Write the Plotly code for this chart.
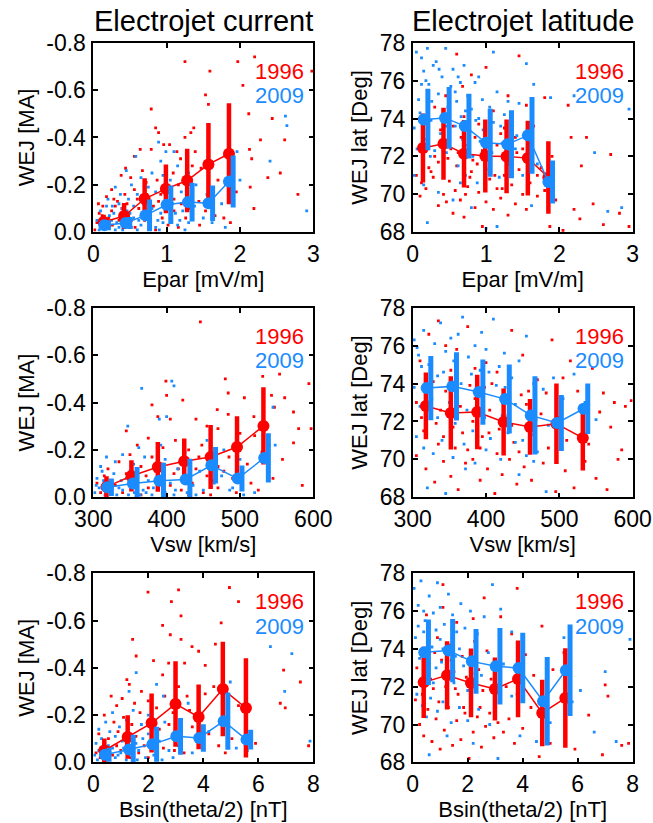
import plotly.graph_objects as go
from plotly.subplots import make_subplots

RED = "#ff0000"
BLUE = "#1a8cff"
FONT = "Liberation Sans, Arial, Helvetica, sans-serif"

# ---- bin means (x) ----
epar_x_1996 = [0.14, 0.42, 0.70, 0.99, 1.28, 1.57, 1.85]
epar_x_2009 = [0.15, 0.44, 0.71, 1.00, 1.29, 1.57, 1.85]
vsw_x_1996 = [318, 352, 388, 424, 460, 496, 532]
vsw_x_2009 = [319, 354, 390, 426, 461, 497, 533]
bsin_x_1996 = [0.40, 1.25, 2.12, 2.99, 3.83, 4.71, 5.55]
bsin_x_2009 = [0.42, 1.30, 2.15, 3.02, 3.85, 4.74, 5.57]

# ---- WEJ current, bin means and std ----
epar_wej_1996 = [-0.043, -0.068, -0.141, -0.183, -0.218, -0.286, -0.331]
epar_wej_1996_sd = [0.031, 0.055, 0.087, 0.103, 0.134, 0.175, 0.213]
epar_wej_2009 = [-0.029, -0.039, -0.071, -0.116, -0.127, -0.122, -0.214]
epar_wej_2009_sd = [0.021, 0.025, 0.067, 0.081, 0.082, 0.075, 0.110]

vsw_wej_1996 = [-0.044, -0.090, -0.128, -0.152, -0.170, -0.212, -0.301]
vsw_wej_1996_sd = [0.045, 0.066, 0.105, 0.096, 0.135, 0.130, 0.163]
vsw_wej_2009 = [-0.042, -0.058, -0.070, -0.075, -0.135, -0.079, -0.166]
vsw_wej_2009_sd = [0.037, 0.070, 0.076, 0.088, 0.077, 0.055, 0.104]

bsin_wej_1996 = [-0.050, -0.107, -0.166, -0.247, -0.192, -0.310, -0.230]
bsin_wej_1996_sd = [0.051, 0.092, 0.125, 0.181, 0.137, 0.200, 0.210]
bsin_wej_2009 = [-0.032, -0.054, -0.076, -0.110, -0.103, -0.174, -0.096]
bsin_wej_2009_sd = [0.030, 0.063, 0.074, 0.078, 0.058, 0.121, 0.042]

# ---- WEJ latitude, bin means and std ----
epar_lat_1996 = [72.44, 72.67, 72.14, 72.02, 72.00, 71.91, 70.89]
epar_lat_1996_sd = [1.82, 1.90, 1.78, 1.93, 1.95, 1.97, 1.91]
epar_lat_2009 = [73.95, 74.03, 73.60, 72.72, 72.64, 73.11, 70.65]
epar_lat_2009_sd = [1.62, 1.63, 1.71, 1.80, 1.79, 2.02, 1.14]

vsw_lat_1996 = [72.82, 72.45, 72.50, 71.97, 71.71, 71.88, 71.13]
vsw_lat_1996_sd = [1.76, 1.93, 1.96, 1.77, 1.47, 2.12, 1.72]
vsw_lat_2009 = [73.76, 73.85, 73.55, 73.18, 72.32, 71.92, 72.67]
vsw_lat_2009_sd = [1.69, 1.80, 1.72, 1.82, 2.06, 1.48, 1.33]

bsin_lat_1996 = [72.23, 72.60, 72.20, 71.88, 72.41, 70.61, 71.40]
bsin_lat_1996_sd = [1.88, 1.80, 1.82, 1.67, 2.03, 1.76, 2.63]
bsin_lat_2009 = [73.82, 73.91, 73.34, 73.08, 72.99, 71.23, 72.87]
bsin_lat_2009_sd = [1.73, 1.67, 1.71, 2.02, 1.86, 2.34, 2.42]

# ---- individual events (x, value) ----
epar_wej_1996_pts = [
    (1.25, -0.72), (1.97, -0.72), (2.20, -0.74), (1.59, -0.68), (2.98, -0.68), (2.04, -0.62),
    (1.53, -0.58), (1.57, -0.54), (2.44, -0.48), (2.12, -0.50), (0.79, -0.52), (0.85, -0.44),
    (2.28, -0.39), (0.89, -0.42), (1.33, -0.42), (1.37, -0.44), (1.25, -0.40), (2.13, -0.35),
    (2.16, -0.31), (0.64, -0.35), (0.79, -0.35), (0.96, -0.37), (1.04, -0.37), (1.14, -0.34),
    (1.19, -0.31), (1.39, -0.34), (1.47, -0.27), (2.38, -0.23), (2.14, -0.19), (2.79, -0.16),
    (2.19, -0.10), (0.44, -0.27), (0.56, -0.32), (0.38, -0.24), (0.51, -0.23), (0.67, -0.26),
    (0.72, -0.21), (0.87, -0.22), (1.09, -0.25), (1.16, -0.20), (1.35, -0.28), (0.25, -0.18),
    (0.13, -0.11), (0.07, -0.12), (0.18, -0.15), (0.33, -0.13), (0.43, -0.16), (0.56, -0.18),
    (0.73, -0.16), (0.89, -0.13), (1.10, -0.14), (1.44, -0.13), (1.53, -0.09), (1.66, -0.07),
    (1.78, -0.06), (1.87, -0.04), (1.45, -0.03), (1.26, -0.06), (1.10, -0.09), (0.94, -0.06),
    (0.78, -0.08), (0.62, -0.10), (0.48, -0.07), (0.35, -0.05), (0.25, -0.09), (0.12, -0.07),
    (0.05, -0.04), (0.26, -0.03), (0.57, -0.02), (0.85, -0.01), (1.16, -0.02), (0.02, -0.01),
    (0.21, -0.06), (0.39, -0.10), (2.61, -0.39), (2.55, -0.25), (1.95, -0.17), (1.70, -0.22),
    (0.30, -0.11), (0.46, -0.12), (0.60, -0.14), (0.70, -0.05), (0.82, -0.11), (1.00, -0.11),
    (0.15, -0.04), (0.40, -0.03), (0.66, -0.07), (0.92, -0.16), (1.20, -0.12), (1.02, -0.03),
    (0.08, -0.08), (0.28, -0.14), (0.52, -0.05), (0.75, -0.13), (0.98, -0.19), (1.32, -0.10),
]
epar_wej_2009_pts = [
    (2.62, -0.49), (2.64, -0.45), (2.41, -0.30), (2.91, -0.09), (0.89, -0.38), (0.92, -0.30),
    (0.99, -0.34), (1.10, -0.34), (0.58, -0.32), (0.45, -0.26), (0.52, -0.20), (0.65, -0.23),
    (0.80, -0.25), (0.95, -0.24), (1.05, -0.22), (1.15, -0.28), (1.30, -0.25), (0.30, -0.19),
    (0.20, -0.14), (0.37, -0.16), (0.48, -0.14), (0.60, -0.16), (0.75, -0.19), (0.85, -0.17),
    (0.98, -0.16), (1.20, -0.17), (1.40, -0.20), (1.55, -0.16), (1.75, -0.12), (1.96, -0.34),
    (2.00, -0.22), (0.10, -0.09), (0.18, -0.11), (0.28, -0.08), (0.40, -0.10), (0.55, -0.11),
    (0.68, -0.12), (0.80, -0.10), (0.92, -0.08), (1.08, -0.12), (1.22, -0.09), (1.38, -0.11),
    (1.50, -0.06), (1.62, -0.04), (1.80, -0.02), (0.05, -0.05), (0.15, -0.03), (0.25, -0.05),
    (0.35, -0.02), (0.45, -0.04), (0.55, -0.06), (0.65, -0.03), (0.75, -0.05), (0.85, -0.02),
    (0.95, -0.04), (1.05, -0.06), (1.15, -0.03), (1.30, -0.04), (0.08, -0.01), (0.30, -0.01),
    (0.60, -0.01), (0.90, -0.01), (1.25, -0.01), (0.50, -0.08), (0.70, -0.07), (0.35, -0.12),
    (0.62, -0.05), (0.12, -0.02), (0.42, -0.06), (0.78, -0.03), (0.22, -0.07), (0.32, -0.04),
    (0.52, -0.02), (0.72, -0.09), (0.88, -0.05), (1.12, -0.08), (0.18, -0.02), (0.40, -0.01),
    (0.14, -0.06), (0.26, -0.11), (0.46, -0.09), (0.66, -0.14), (1.00, -0.10), (1.18, -0.05),
]
epar_lat_1996_pts = [
    (0.05, 71.0), (0.10, 69.9), (0.18, 70.3), (0.25, 71.2), (0.30, 72.0), (0.35, 69.4), (0.42, 70.0),
    (0.50, 70.7), (0.55, 69.0), (0.60, 71.5), (0.65, 69.7), (0.70, 68.8), (0.75, 70.4), (0.80, 71.2),
    (0.85, 69.3), (0.90, 70.1), (0.95, 68.3), (1.00, 69.6), (1.05, 70.8), (1.10, 69.2), (1.15, 70.3),
    (1.20, 69.8), (1.25, 71.0), (1.30, 68.9), (1.35, 70.5), (1.40, 69.5), (1.45, 71.3), (1.50, 70.0),
    (1.55, 69.2), (1.60, 70.6), (1.70, 69.9), (1.75, 71.4), (1.80, 70.2), (1.87, 68.3), (1.95, 69.7),
    (2.05, 68.1), (2.20, 69.2), (2.28, 68.7), (2.46, 69.5), (2.60, 68.4), (2.82, 69.0), (2.95, 68.3),
    (2.30, 71.5), (2.70, 72.1), (2.16, 73.0), (2.37, 73.0), (2.12, 74.7), (1.45, 77.3), (1.00, 76.7),
    (0.60, 77.4), (0.80, 76.3), (0.30, 74.6), (0.45, 75.2), (0.70, 74.1), (0.90, 73.7), (1.10, 74.4),
    (1.25, 73.5), (1.40, 73.0), (1.55, 74.7), (1.65, 73.6), (1.80, 75.1), (0.15, 73.2), (0.40, 72.8),
    (0.55, 73.6), (0.75, 72.6), (0.95, 72.3), (1.15, 72.6), (1.35, 71.8), (1.50, 72.4), (1.70, 71.0),
    (1.90, 72.0), (0.20, 72.6), (0.62, 72.2), (0.85, 73.0), (1.05, 71.5), (1.20, 73.2), (0.10, 74.0),
    (0.35, 71.7), (0.50, 74.3), (0.68, 75.7), (1.30, 75.2), (0.22, 71.4), (0.48, 71.9), (0.78, 70.9),
    (1.02, 72.9), (1.28, 72.1), (0.58, 70.2), (0.88, 71.6), (1.12, 71.0), (0.38, 73.4), (0.66, 73.0),
    (0.12, 70.6), (0.28, 70.9), (0.46, 69.6), (0.72, 70.0), (0.98, 70.6), (1.22, 70.3), (1.42, 72.2),
    (1.62, 71.7), (0.52, 72.4), (0.82, 71.8),
]
epar_lat_2009_pts = [
    (0.05, 77.5), (0.12, 77.2), (0.08, 75.0), (0.15, 76.5), (0.20, 77.7), (0.22, 75.8), (0.28, 76.8),
    (0.32, 77.0), (0.35, 75.3), (0.40, 76.2), (0.45, 77.7), (0.48, 74.6), (0.52, 75.7), (0.55, 76.6),
    (0.60, 74.9), (0.65, 75.9), (0.70, 76.8), (0.75, 75.2), (0.80, 74.5), (0.85, 75.9), (0.90, 74.0),
    (0.95, 75.0), (1.05, 74.6), (1.10, 73.8), (1.15, 75.4), (1.25, 74.2), (1.35, 73.5), (1.45, 74.8),
    (1.55, 76.9), (1.65, 75.8), (1.10, 77.5), (0.02, 73.5), (0.10, 74.3), (0.18, 72.9), (0.25, 73.9),
    (0.30, 72.3), (0.38, 73.2), (0.42, 71.8), (0.50, 72.7), (0.58, 73.6), (0.62, 71.5), (0.68, 72.9),
    (0.72, 71.0), (0.78, 73.3), (0.82, 72.0), (0.88, 70.6), (0.92, 72.8), (1.00, 71.3), (1.08, 72.2),
    (1.18, 70.9), (1.22, 72.7), (1.30, 71.6), (1.40, 72.4), (1.50, 71.0), (1.58, 72.9), (1.70, 71.6),
    (0.15, 70.5), (0.35, 70.1), (0.55, 69.7), (0.80, 69.3), (0.20, 68.5), (1.00, 68.2), (1.15, 68.3),
    (1.62, 69.4), (2.66, 69.1), (2.85, 69.3), (2.48, 72.2), (1.88, 75.1), (2.95, 74.5), (2.20, 75.2),
    (0.02, 71.0), (0.65, 70.6), (0.45, 73.6), (0.90, 76.2), (1.30, 74.9), (0.12, 75.8), (0.26, 74.9),
    (0.42, 74.4), (0.58, 75.4), (0.72, 74.4), (0.86, 73.9), (0.18, 76.0), (0.36, 76.6), (0.62, 76.2),
    (0.06, 72.4), (0.24, 72.0), (0.46, 72.2), (0.66, 74.1), (0.96, 73.4), (1.20, 73.6), (1.42, 73.1),
]
vsw_wej_1996_pts = [
    (446, -0.74), (480, -0.50), (484, -0.44), (531, -0.51), (554, -0.52), (594, -0.48), (561, -0.42),
    (506, -0.42), (543, -0.43), (469, -0.37), (484, -0.35), (519, -0.34), (547, -0.38), (573, -0.36),
    (580, -0.29), (597, -0.29), (573, -0.23), (558, -0.16), (585, -0.05), (399, -0.49), (400, -0.43),
    (345, -0.28), (380, -0.39), (388, -0.34), (405, -0.33), (422, -0.41), (440, -0.33), (455, -0.30),
    (470, -0.29), (500, -0.27), (520, -0.26), (540, -0.22), (360, -0.22), (375, -0.25), (395, -0.21),
    (412, -0.24), (430, -0.20), (448, -0.22), (465, -0.18), (485, -0.17), (510, -0.14), (530, -0.19),
    (320, -0.12), (335, -0.15), (350, -0.18), (365, -0.13), (380, -0.17), (395, -0.14), (410, -0.10),
    (425, -0.16), (440, -0.12), (455, -0.09), (470, -0.13), (490, -0.08), (515, -0.06), (305, -0.06),
    (315, -0.09), (330, -0.05), (345, -0.10), (360, -0.07), (375, -0.04), (390, -0.08), (405, -0.05),
    (420, -0.03), (435, -0.06), (450, -0.02), (470, -0.04), (495, -0.02), (525, -0.03), (310, -0.02),
    (340, -0.02), (365, -0.01), (400, -0.01), (430, -0.01), (460, -0.01), (545, -0.08), (385, -0.11),
    (372, -0.09), (392, -0.06), (416, -0.12), (444, -0.17), (462, -0.07), (478, -0.11),
]
vsw_wej_2009_pts = [
    (366, -0.46), (407, -0.49), (410, -0.47), (347, -0.30), (390, -0.33), (400, -0.34), (545, -0.38),
    (548, -0.22), (500, -0.16), (478, -0.20), (330, -0.15), (340, -0.18), (355, -0.14), (370, -0.17),
    (385, -0.13), (398, -0.16), (415, -0.12), (430, -0.15), (445, -0.11), (460, -0.14), (475, -0.09),
    (305, -0.08), (312, -0.11), (320, -0.06), (328, -0.10), (335, -0.04), (345, -0.08), (352, -0.05),
    (360, -0.10), (368, -0.03), (375, -0.07), (382, -0.04), (390, -0.09), (398, -0.02), (405, -0.06),
    (412, -0.03), (420, -0.08), (428, -0.02), (436, -0.05), (450, -0.03), (465, -0.06), (490, -0.04),
    (520, -0.02), (302, -0.02), (308, -0.04), (316, -0.01), (324, -0.03), (332, -0.01), (340, -0.03),
    (348, -0.01), (356, -0.02), (364, -0.01), (372, -0.02), (380, -0.01), (395, -0.01), (410, -0.01),
    (440, -0.01), (310, -0.13), (318, -0.17), (362, -0.21), (392, -0.22), (425, -0.19), (455, -0.24),
    (486, -0.03), (505, -0.01), (304, -0.05), (314, -0.07), (326, -0.05), (338, -0.07), (350, -0.11),
]
vsw_lat_1996_pts = [
    (310, 75.2), (322, 76.6), (335, 77.3), (345, 76.0), (360, 75.8), (375, 77.0), (385, 74.8),
    (400, 75.1), (415, 74.6), (435, 76.8), (450, 75.5), (470, 74.2), (490, 76.3), (515, 75.2),
    (545, 74.8), (560, 73.5), (575, 73.0), (590, 72.8), (598, 73.1), (305, 73.0), (315, 71.5),
    (325, 72.3), (335, 70.8), (345, 73.6), (355, 71.7), (365, 72.8), (375, 70.5), (385, 73.2),
    (395, 71.2), (405, 72.6), (415, 70.3), (425, 73.0), (435, 71.8), (445, 70.4), (455, 72.9),
    (465, 71.3), (475, 72.4), (485, 70.6), (500, 72.2), (510, 71.0), (525, 73.6), (540, 70.8),
    (555, 72.5), (570, 71.7), (585, 70.5), (305, 70.2), (318, 69.5), (330, 68.8), (342, 69.9),
    (352, 69.1), (362, 68.4), (372, 69.8), (382, 70.0), (392, 68.9), (402, 69.5), (412, 68.2),
    (422, 69.2), (432, 70.0), (442, 68.7), (452, 69.6), (462, 68.9), (478, 69.8), (495, 68.3),
    (508, 69.4), (520, 68.5), (535, 69.9), (550, 69.0), (565, 68.4), (580, 70.0), (342, 71.2),
    (398, 73.8), (458, 73.6), (482, 73.5), (505, 74.3), (328, 74.1), (352, 74.7), (378, 73.9),
    (408, 74.0), (338, 72.6), (368, 71.4), (418, 71.6), (448, 73.4), (392, 70.6), (430, 72.3),
    (312, 72.2), (332, 71.9), (358, 70.6), (382, 72.0), (404, 71.4), (438, 70.9), (468, 72.1),
]
vsw_lat_2009_pts = [
    (302, 76.3), (308, 75.5), (315, 76.8), (322, 75.0), (330, 76.1), (338, 77.2), (345, 75.7),
    (352, 76.4), (360, 74.9), (368, 77.5), (376, 75.4), (385, 76.0), (392, 74.7), (400, 75.8),
    (410, 77.4), (418, 74.9), (425, 75.6), (435, 74.3), (445, 75.2), (455, 76.5), (465, 74.0),
    (478, 73.7), (492, 74.3), (505, 73.2), (520, 74.5), (535, 73.0), (302, 73.8), (310, 72.8),
    (318, 74.2), (326, 73.2), (334, 72.2), (342, 74.6), (350, 73.0), (358, 71.9), (366, 74.0),
    (374, 72.6), (382, 71.5), (390, 73.4), (398, 72.2), (406, 71.1), (414, 73.9), (422, 72.3),
    (430, 71.4), (440, 72.9), (450, 71.0), (460, 72.7), (470, 70.4), (485, 71.8), (305, 71.2),
    (315, 70.6), (328, 70.3), (340, 71.0), (355, 70.1), (370, 70.8), (385, 69.8), (400, 70.5),
    (420, 70.0), (445, 69.2), (465, 69.9), (482, 68.3), (320, 68.5), (345, 68.2), (372, 69.5),
    (440, 70.9), (455, 70.2), (550, 72.1), (312, 74.9), (334, 74.4), (356, 75.2), (380, 74.5),
    (404, 74.6), (426, 73.8), (306, 75.9), (362, 76.6), (394, 76.7),
]
bsin_wej_1996_pts = [
    (1.99, -0.72), (3.10, -0.73), (2.84, -0.68), (3.19, -0.62), (2.52, -0.58), (2.80, -0.54),
    (4.95, -0.74), (5.28, -0.68), (4.65, -0.59), (1.43, -0.52), (3.19, -0.52), (3.59, -0.49),
    (3.83, -0.47), (4.44, -0.50), (1.56, -0.45), (2.19, -0.43), (2.74, -0.42), (3.32, -0.42),
    (4.07, -0.41), (6.92, -0.39), (7.53, -0.34), (6.80, -0.25), (6.98, -0.23), (7.83, -0.07),
    (1.22, -0.35), (1.31, -0.33), (2.52, -0.37), (3.10, -0.32), (3.41, -0.28), (4.07, -0.29),
    (4.38, -0.32), (5.28, -0.24), (4.56, -0.07), (5.04, -0.10), (0.65, -0.28), (0.85, -0.24),
    (1.05, -0.27), (1.50, -0.25), (1.75, -0.30), (2.00, -0.26), (2.30, -0.23), (2.60, -0.28),
    (2.90, -0.21), (3.50, -0.22), (0.40, -0.20), (0.75, -0.17), (1.10, -0.19), (1.40, -0.16),
    (1.70, -0.21), (2.05, -0.18), (2.40, -0.14), (2.75, -0.16), (3.05, -0.12), (3.60, -0.15),
    (4.20, -0.12), (0.20, -0.12), (0.55, -0.10), (0.90, -0.13), (1.20, -0.08), (1.55, -0.11),
    (1.85, -0.07), (2.20, -0.09), (2.55, -0.06), (2.95, -0.05), (3.30, -0.04), (0.10, -0.04),
    (0.35, -0.06), (0.70, -0.03), (1.00, -0.05), (1.35, -0.02), (1.65, -0.04), (2.00, -0.02),
    (0.50, -0.01), (0.25, -0.02), (0.85, -0.07), (5.90, -0.08), (4.80, -0.04),
]
bsin_wej_2009_pts = [
    (6.44, -0.49), (7.22, -0.46), (6.96, -0.30), (7.88, -0.09), (1.56, -0.38), (1.30, -0.30),
    (2.30, -0.33), (2.55, -0.28), (3.45, -0.25), (4.98, -0.34), (4.20, -0.13), (5.60, -0.05),
    (5.20, -0.06), (0.20, -0.14), (0.45, -0.17), (0.70, -0.21), (0.95, -0.15), (1.20, -0.18),
    (1.45, -0.22), (1.75, -0.16), (2.00, -0.20), (2.25, -0.14), (2.60, -0.17), (2.90, -0.12),
    (3.20, -0.15), (0.10, -0.08), (0.30, -0.10), (0.55, -0.07), (0.80, -0.11), (1.05, -0.09),
    (1.30, -0.12), (1.55, -0.08), (1.80, -0.10), (2.10, -0.07), (2.40, -0.09), (2.75, -0.05),
    (3.10, -0.07), (3.60, -0.04), (0.05, -0.03), (0.20, -0.05), (0.40, -0.02), (0.60, -0.04),
    (0.80, -0.02), (1.00, -0.04), (1.20, -0.01), (1.40, -0.03), (1.65, -0.05), (1.90, -0.02),
    (2.20, -0.03), (2.50, -0.01), (2.90, -0.02), (0.15, -0.01), (0.50, -0.01), (0.70, -0.06),
    (1.10, -0.06), (1.60, -0.01), (0.35, -0.04), (0.90, -0.03), (1.35, -0.07), (2.00, -0.12),
    (0.60, -0.13),
]
bsin_lat_1996_pts = [
    (0.10, 71.3), (0.25, 70.0), (0.40, 69.4), (0.55, 70.8), (0.70, 69.1), (0.85, 70.3), (1.00, 68.7),
    (1.15, 69.7), (1.30, 70.9), (1.45, 68.9), (1.60, 70.2), (1.75, 69.2), (1.90, 70.6), (2.05, 68.2),
    (2.20, 69.6), (2.35, 70.4), (2.50, 68.8), (2.65, 69.9), (2.80, 70.6), (2.95, 69.3), (3.10, 70.1),
    (3.30, 69.6), (3.50, 70.3), (3.70, 69.0), (4.00, 69.8), (4.60, 68.3), (5.00, 69.0), (5.90, 68.7),
    (6.40, 70.5), (7.00, 72.1), (7.10, 71.5), (6.90, 68.4), (7.60, 68.9), (7.85, 69.0), (4.30, 70.9),
    (0.15, 73.0), (0.30, 72.2), (0.45, 74.0), (0.60, 73.2), (0.75, 71.9), (0.90, 74.6), (1.05, 73.4),
    (1.20, 72.0), (1.35, 74.2), (1.50, 72.8), (1.65, 71.6), (1.80, 73.6), (1.95, 72.5), (2.10, 71.3),
    (2.25, 74.4), (2.40, 72.9), (2.55, 71.8), (2.70, 73.9), (2.85, 72.4), (3.00, 71.4), (3.20, 73.3),
    (3.40, 72.0), (3.60, 74.8), (3.80, 71.6), (4.10, 73.7), (4.40, 72.6), (4.70, 75.2), (5.10, 72.9),
    (0.50, 75.8), (1.10, 76.2), (1.60, 75.4), (2.60, 76.7), (3.80, 77.2), (1.10, 77.4), (2.20, 75.6),
    (3.20, 75.7), (5.50, 73.8), (0.35, 71.6), (0.65, 72.4), (0.95, 71.2), (1.25, 72.9), (1.55, 71.9),
    (1.85, 70.9), (2.15, 72.7), (2.45, 70.9), (0.80, 73.8), (1.40, 73.4),
]
bsin_lat_2009_pts = [
    (0.05, 77.2), (0.20, 76.3), (0.30, 77.6), (0.45, 75.5), (0.60, 76.8), (0.75, 75.9), (0.90, 77.5),
    (1.00, 76.2), (1.15, 75.3), (1.30, 76.9), (1.45, 75.8), (1.60, 74.9), (1.75, 76.4), (1.90, 75.1),
    (2.10, 76.0), (2.35, 74.8), (2.60, 75.7), (2.90, 77.4), (3.20, 76.1), (3.60, 74.9), (0.10, 74.6),
    (0.25, 73.5), (0.40, 74.9), (0.55, 72.9), (0.70, 74.1), (0.85, 73.0), (1.00, 74.5), (1.20, 72.5),
    (1.35, 73.7), (1.50, 72.2), (1.70, 74.0), (1.85, 73.1), (2.00, 71.8), (2.25, 73.4), (2.50, 72.6),
    (2.75, 73.8), (3.00, 72.0), (3.30, 73.2), (3.60, 71.5), (4.00, 72.8), (0.15, 71.6), (0.35, 71.0),
    (0.50, 70.4), (0.65, 71.4), (0.90, 70.7), (1.10, 71.2), (1.40, 70.1), (1.70, 70.9), (2.00, 70.2),
    (2.40, 70.8), (2.80, 70.0), (0.60, 68.4), (1.25, 69.4), (2.20, 69.0), (3.10, 68.2), (4.50, 69.1),
    (5.00, 70.1), (5.50, 74.6), (5.80, 71.2), (6.10, 71.8), (7.00, 72.8), (7.40, 69.1), (6.60, 69.6),
    (7.90, 74.5), (3.90, 69.4), (0.20, 75.2), (0.55, 74.2), (0.85, 75.0), (1.10, 74.0), (1.55, 73.6),
    (0.30, 72.4), (0.75, 72.2), (1.25, 71.8), (0.40, 76.0), (1.05, 73.3),
]

# ---- axes ----
epar_ticks = [0, 1, 2, 3]
vsw_ticks = [300, 400, 500, 600]
bsin_ticks = [0, 2, 4, 6, 8]
wej_ticks = [0.0, -0.2, -0.4, -0.6, -0.8]
wej_ticktext = ["0.0", "-0.2", "-0.4", "-0.6", "-0.8"]
lat_ticks = [68, 70, 72, 74, 76, 78]

panels = [
    # row, col, x bins 1996, x bins 2009, y 1996, sd, y 2009, sd, pts 1996, pts 2009
    (1, 1, epar_x_1996, epar_x_2009, epar_wej_1996, epar_wej_1996_sd, epar_wej_2009, epar_wej_2009_sd,
     epar_wej_1996_pts, epar_wej_2009_pts),
    (1, 2, epar_x_1996, epar_x_2009, epar_lat_1996, epar_lat_1996_sd, epar_lat_2009, epar_lat_2009_sd,
     epar_lat_1996_pts, epar_lat_2009_pts),
    (2, 1, vsw_x_1996, vsw_x_2009, vsw_wej_1996, vsw_wej_1996_sd, vsw_wej_2009, vsw_wej_2009_sd,
     vsw_wej_1996_pts, vsw_wej_2009_pts),
    (2, 2, vsw_x_1996, vsw_x_2009, vsw_lat_1996, vsw_lat_1996_sd, vsw_lat_2009, vsw_lat_2009_sd,
     vsw_lat_1996_pts, vsw_lat_2009_pts),
    (3, 1, bsin_x_1996, bsin_x_2009, bsin_wej_1996, bsin_wej_1996_sd, bsin_wej_2009, bsin_wej_2009_sd,
     bsin_wej_1996_pts, bsin_wej_2009_pts),
    (3, 2, bsin_x_1996, bsin_x_2009, bsin_lat_1996, bsin_lat_1996_sd, bsin_lat_2009, bsin_lat_2009_sd,
     bsin_lat_1996_pts, bsin_lat_2009_pts),
]
x_ranges = {1: [0, 3], 2: [300, 600], 3: [0, 8]}
x_ticks = {1: epar_ticks, 2: vsw_ticks, 3: bsin_ticks}
x_titles = {1: "Epar [mV/m]", 2: "Vsw [km/s]", 3: "Bsin(theta/2) [nT]"}

W, H = 653, 823
col_px = {1: (93.3, 313.3), 2: (412.7, 632.7)}
row_px = {1: (42.7, 232.2), 2: (307.7, 497.3), 3: (573.3, 762.3)}

fig = make_subplots(rows=3, cols=2)

for row, col, x96, x09, y96, sd96, y09, sd09, p96, p09 in panels:
    span = x_ranges[row][1] - x_ranges[row][0]
    shift = 0.019 * span  # 2009 error bars drawn slightly to the right
    for pts, colr in ((p96, RED), (p09, BLUE)):
        fig.add_trace(go.Scatter(
            x=[p[0] for p in pts], y=[p[1] for p in pts], mode="markers",
            marker=dict(color=colr, size=2.8, symbol="square", line=dict(width=0)),
            showlegend=False, hoverinfo="skip"), row=row, col=col)
    # 1996 mean with error bars
    fig.add_trace(go.Scatter(
        x=x96, y=y96, mode="lines+markers",
        line=dict(color=RED, width=1.5),
        marker=dict(color=RED, size=12),
        error_y=dict(type="data", array=sd96, color=RED, thickness=4.5, width=0),
        showlegend=False), row=row, col=col)
    # 2009 error bars (offset) and mean
    fig.add_trace(go.Scatter(
        x=[v + shift for v in x09], y=y09, mode="markers",
        marker=dict(color=BLUE, size=1, opacity=0),
        error_y=dict(type="data", array=sd09, color=BLUE, thickness=5, width=0),
        showlegend=False, hoverinfo="skip"), row=row, col=col)
    fig.add_trace(go.Scatter(
        x=x09, y=y09, mode="lines+markers",
        line=dict(color=BLUE, width=1.5),
        marker=dict(color=BLUE, size=12),
        showlegend=False), row=row, col=col)

axis_common = dict(
    showline=True, linecolor="black", linewidth=1.6, mirror="ticks",
    ticks="inside", ticklen=5, tickwidth=1.6, tickcolor="black",
    showgrid=False, zeroline=False, automargin=False,
    tickfont=dict(family=FONT, size=23, color="black"),
    title_font=dict(family=FONT, size=22, color="black"),
)

for row in (1, 2, 3):
    for col in (1, 2):
        x0, x1 = [v / W for v in col_px[col]]
        y0, y1 = [1 - v / H for v in row_px[row]]
        fig.update_xaxes(
            domain=[x0, x1], range=x_ranges[row], tickvals=x_ticks[row],
            title_text=x_titles[row], title_standoff=2, ticklabelstandoff=0,
            row=row, col=col, **axis_common)
        if col == 1:
            fig.update_yaxes(
                domain=[y1, y0], range=[0, -0.8],
                tickvals=wej_ticks, ticktext=wej_ticktext,
                title_text="WEJ [MA]", title_standoff=6, ticklabelstandoff=1,
                row=row, col=col, **axis_common)
        else:
            fig.update_yaxes(
                domain=[y1, y0], range=[68, 78],
                tickvals=lat_ticks,
                title_text="WEJ lat [Deg]", title_standoff=6, ticklabelstandoff=1,
                row=row, col=col, **axis_common)
        idx = (row - 1) * 2 + col
        suffix = "" if idx == 1 else str(idx)
        for label, colr, yy in (("1996", RED, 0.85), ("2009", BLUE, 0.72)):
            fig.add_annotation(
                text=label, xref="x" + suffix + " domain", yref="y" + suffix + " domain",
                x=0.968, y=yy, xanchor="right", yanchor="middle", showarrow=False,
                font=dict(family=FONT, size=22, color=colr))

for text, col in (("Electrojet current", 1), ("Electrojet latitude", 2)):
    cx = sum(col_px[col]) / 2 / W
    fig.add_annotation(
        text=text, xref="paper", yref="paper", x=cx, y=1 - 21 / H,
        xanchor="center", yanchor="middle", showarrow=False,
        font=dict(family=FONT, size=29, color="black"))

fig.update_layout(
    width=W, height=H, margin=dict(l=0, r=0, t=0, b=0),
    plot_bgcolor="white", paper_bgcolor="white", showlegend=False,
)

# drop the page's default body margin so the figure sits at the window corner
fig.write_html("out.html", config={"displayModeBar": False},
               post_script="document.body.style.margin = '0';")
